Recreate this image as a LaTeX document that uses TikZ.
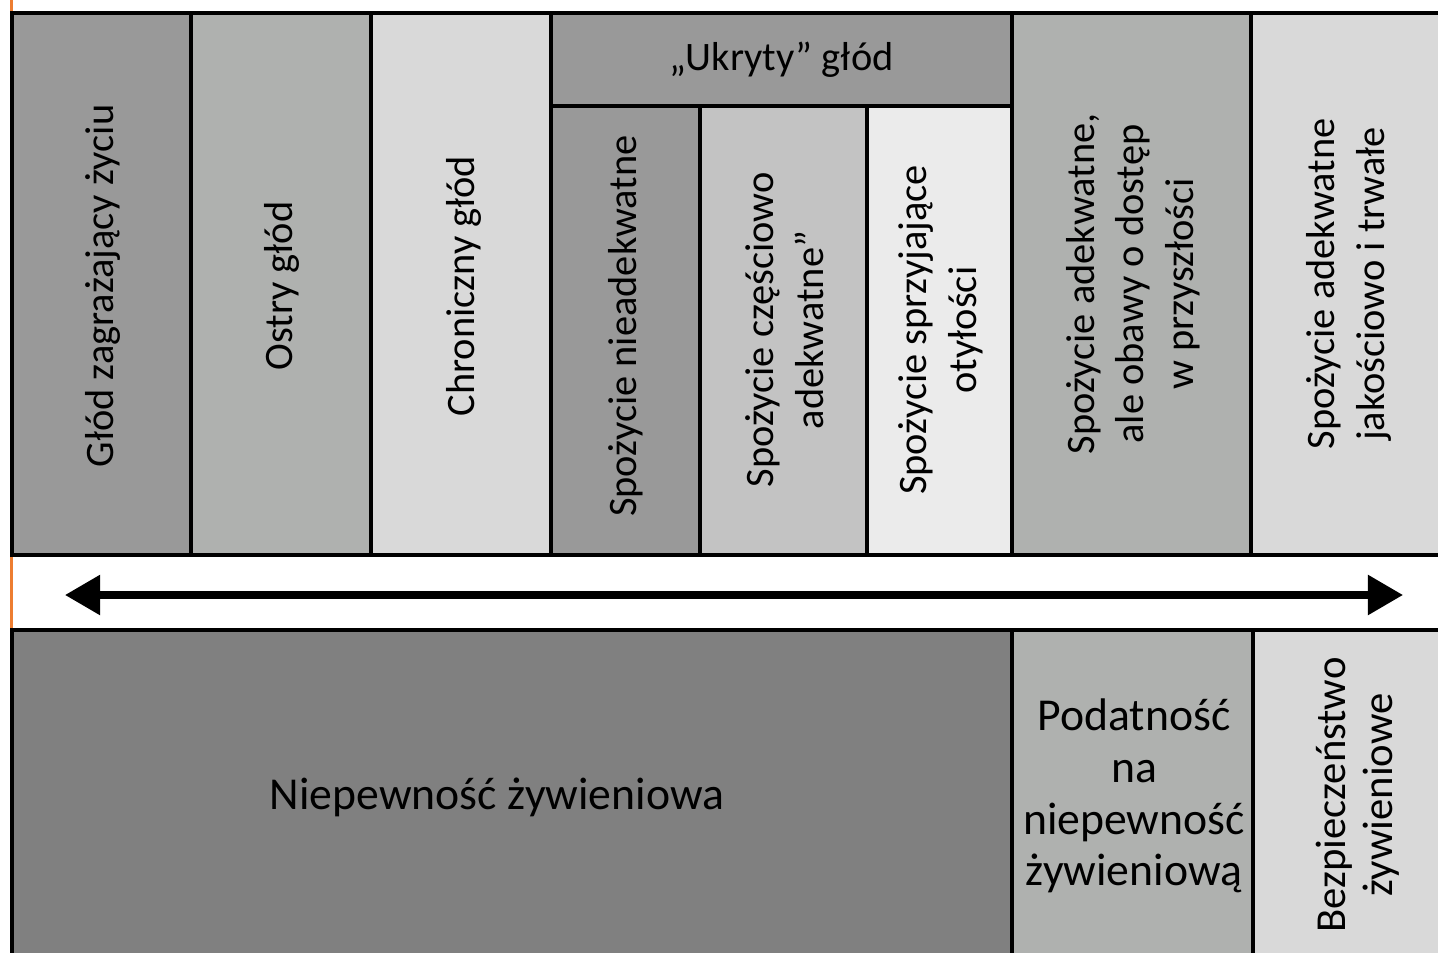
\documentclass[tikz,border=0pt]{standalone}
\usepackage{fontspec}
\setmainfont{Carlito}
\usetikzlibrary{arrows.meta}
\definecolor{ciemny}{HTML}{999999}
\definecolor{sredni}{HTML}{AFB1AF}
\definecolor{jasny}{HTML}{D9D9D9}
\definecolor{srebrny}{HTML}{C3C3C3}
\definecolor{blady}{HTML}{EBEBEB}
\definecolor{grafit}{HTML}{808080}
\definecolor{pomarancz}{HTML}{ED7D31}
\tikzset{
  pole/.style={draw=black,line width=2pt},
  opis/.style={align=center,inner sep=0pt,font=\fontsize{23}{28.3}\selectfont},
  pion/.style={opis,rotate=90},
  dolny/.style={align=center,inner sep=0pt,font=\fontsize{26}{29.5}\selectfont},
}
\begin{document}
\begin{tikzpicture}[x=0.02cm,y=-0.02cm]
  \useasboundingbox (0,0) rectangle (1438,953);
  \clip (0,0) rectangle (1438,953);
  \draw[pomarancz,line width=1.7pt] (11.5,0) -- (11.5,953);
  % gorny rzad
  \foreach \a/\b/\k in {12/191/ciemny,191/371/sredni,371/551/jasny,1012/1251/sredni,1251/1480/jasny}
    \draw[pole,fill=\k] (\a,13) rectangle (\b,555);
  \draw[pole,fill=ciemny] (551,13) rectangle (1012,106);
  \foreach \a/\b/\k in {551/700/ciemny,700/867/srebrny,867/1012/blady}
    \draw[pole,fill=\k] (\a,106) rectangle (\b,555);
  % dolny rzad
  \draw[pole,fill=grafit] (12,630) rectangle (1012,970);
  \draw[pole,fill=sredni] (1012,630) rectangle (1253,970);
  \draw[pole,fill=jasny] (1253,630) rectangle (1480,970);

  \node[pion] (zycie) at (103,286) {Głód zagrażający życiu};
  \node[pion] (ostry) at (282,286) {Ostry głód};
  \node[pion] (chron) at (464,286) {Chroniczny głód};
  \node[opis] (ukryty) at (781.5,59.5) {„Ukryty” głód};
  \node[pion] (nieadek) at (625.5,326) {Spożycie nieadekwatne};
  \node[pion] (czesc) at (785,330) {Spożycie częściowo\\adekwatne”};
  \node[pion] (otylosc) at (941,330) {Spożycie sprzyjające\\otyłości};
  \node[pion] (obawy) at (1133,284) {Spożycie adekwatne,\\ale obawy o dostęp\\w przyszłości};
  \node[pion] (trwale) at (1349,284) {Spożycie adekwatne\\jakościowo i trwałe};

  \node[dolny] (niepewnosc) at (497,797) {Niepewność żywieniowa};
  \node[dolny] (podatnosc) at (1134,796) {Podatność\\na\\niepewność\\żywieniową};
  \node[pion,font=\fontsize{24.3}{27}\selectfont] (bezp) at (1358,795) {Bezpieczeństwo\\żywieniowe};

  \coordinate (lewy) at (65,595);
  \coordinate (prawy) at (1403,595);
  \draw[line width=4pt,{Triangle[length=20pt,width=22pt]}-{Triangle[length=20pt,width=22pt]}] (lewy) -- (prawy);
\end{tikzpicture}
\end{document}
